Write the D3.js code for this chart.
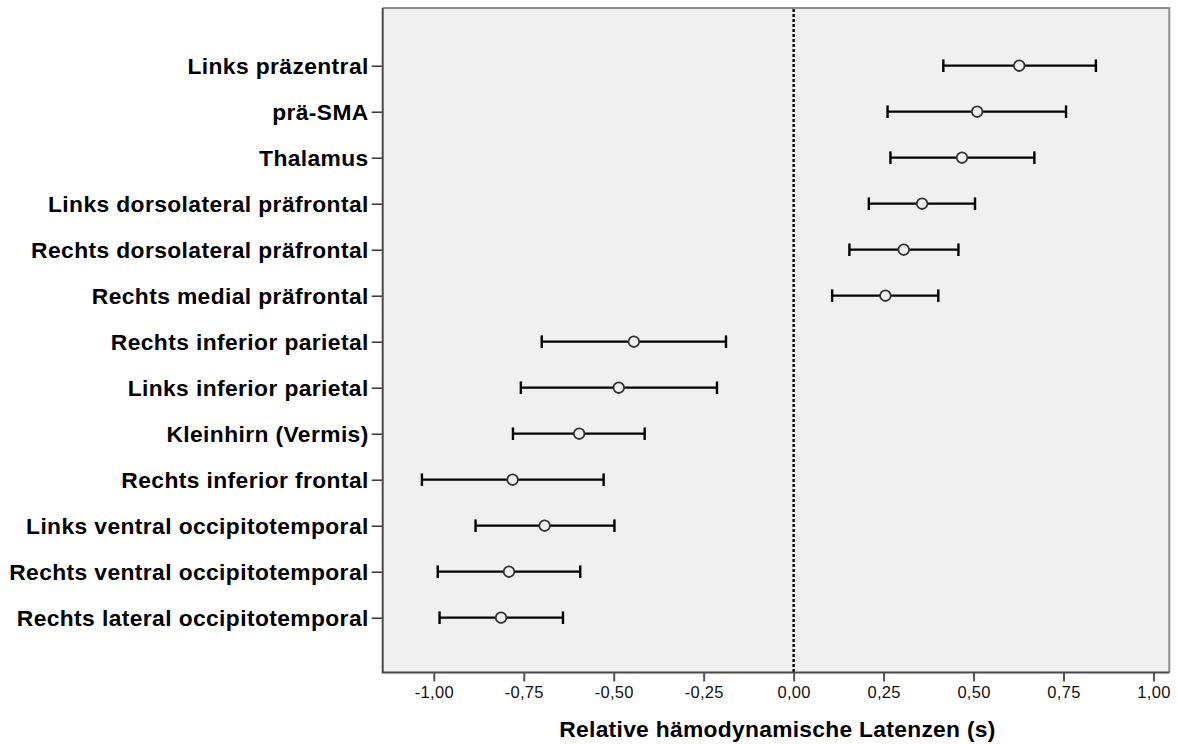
<!DOCTYPE html>
<html>
<head>
<meta charset="utf-8">
<script src="https://cdn.jsdelivr.net/npm/d3@7"></script>
<style>
  html, body { margin: 0; padding: 0; background: #ffffff; }
  svg { display: block; }
  text { font-family: "Liberation Sans", Arial, sans-serif; }
</style>
</head>
<body>
<svg id="chart" width="1177" height="744"></svg>
<script>
const categories = [
  "Links präzentral",
  "prä-SMA",
  "Thalamus",
  "Links dorsolateral präfrontal",
  "Rechts dorsolateral präfrontal",
  "Rechts medial präfrontal",
  "Rechts inferior parietal",
  "Links inferior parietal",
  "Kleinhirn (Vermis)",
  "Rechts inferior frontal",
  "Links ventral occipitotemporal",
  "Rechts ventral occipitotemporal",
  "Rechts lateral occipitotemporal"
];
const means = [0.627, 0.510, 0.468, 0.357, 0.306, 0.255, -0.444, -0.486, -0.596, -0.781, -0.692, -0.791, -0.813];
const lower = [0.416, 0.261, 0.269, 0.209, 0.155, 0.107, -0.700, -0.758, -0.780, -1.033, -0.884, -0.989, -0.984];
const upper = [0.840, 0.757, 0.669, 0.504, 0.458, 0.402, -0.188, -0.213, -0.414, -0.528, -0.498, -0.593, -0.641];
const xTicks = [-1.00, -0.75, -0.50, -0.25, 0.00, 0.25, 0.50, 0.75, 1.00];
const xDomain = [-1.142, 1.044];
const xTitle = "Relative hämodynamische Latenzen (s)";

const rows = categories.map((c, i) => ({ cat: c, mean: means[i], lo: lower[i], hi: upper[i] }));

const svg = d3.select("#chart");
const frame = { left: 382.7, right: 1169.3, top: 8, bottom: 672.5 };

const x = d3.scaleLinear().domain(xDomain).range([frame.left, frame.right]);
const y = d3.scalePoint().domain(categories).range([frame.top, frame.bottom]).padding(1.2228).align(0.513);

// plot background
svg.append("rect")
  .attr("x", frame.left).attr("y", frame.top)
  .attr("width", frame.right - frame.left).attr("height", frame.bottom - frame.top)
  .attr("fill", "#f0f0f0");

// top and right border (gray)
svg.append("path")
  .attr("d", `M${frame.left},${frame.top}H${frame.right}V${frame.bottom}`)
  .attr("fill", "none").attr("stroke", "#8c8c8c").attr("stroke-width", 2);

// zero reference line
svg.append("line")
  .attr("x1", x(0)).attr("x2", x(0))
  .attr("y1", frame.top + 1).attr("y2", frame.bottom)
  .attr("stroke", "#000").attr("stroke-width", 2.4)
  .attr("stroke-dasharray", "3,2");

// x axis
const xAxis = d3.axisBottom(x)
  .tickValues(xTicks)
  .tickSize(9)
  .tickPadding(5)
  .tickFormat(d => d3.format(".2f")(d).replace("−", "-").replace(".", ","));
const gx = svg.append("g").attr("transform", `translate(0,${frame.bottom})`).call(xAxis);
gx.select(".domain").remove();
gx.selectAll(".tick line").attr("stroke", "#555").attr("stroke-width", 2);
gx.selectAll(".tick text").attr("font-size", 16.5).attr("fill", "#111")
  .attr("letter-spacing", "0.3px")
  .attr("font-family", "'Liberation Sans', Arial, sans-serif");

// y axis
const yAxis = d3.axisLeft(y).tickSize(11).tickPadding(3);
const gy = svg.append("g").attr("transform", `translate(${frame.left},0)`).call(yAxis);
gy.select(".domain").remove();
gy.selectAll(".tick line").attr("stroke", "#333").attr("stroke-width", 1.5);
gy.selectAll(".tick text").attr("font-size", 22.8).attr("font-weight", "bold").attr("fill", "#000")
  .attr("dy", "0.36em")
  .attr("letter-spacing", "0.4px")
  .attr("font-family", "'Liberation Sans', Arial, sans-serif");

// left and bottom axis lines
svg.append("path")
  .attr("d", `M${frame.left},${frame.top}V${frame.bottom}H${frame.right}`)
  .attr("fill", "none").attr("stroke", "#4a4a4a").attr("stroke-width", 2);

// error bars
const g = svg.append("g");
const bars = g.selectAll("g.bar").data(rows).join("g").attr("class", "bar");
bars.append("line")
  .attr("x1", d => x(d.lo)).attr("x2", d => x(d.hi))
  .attr("y1", d => y(d.cat)).attr("y2", d => y(d.cat))
  .attr("stroke", "#000").attr("stroke-width", 2.2);
bars.append("line")
  .attr("x1", d => x(d.lo)).attr("x2", d => x(d.lo))
  .attr("y1", d => y(d.cat) - 6.3).attr("y2", d => y(d.cat) + 6.3)
  .attr("stroke", "#000").attr("stroke-width", 2.4);
bars.append("line")
  .attr("x1", d => x(d.hi)).attr("x2", d => x(d.hi))
  .attr("y1", d => y(d.cat) - 6.3).attr("y2", d => y(d.cat) + 6.3)
  .attr("stroke", "#000").attr("stroke-width", 2.4);
bars.append("circle")
  .attr("cx", d => x(d.mean)).attr("cy", d => y(d.cat))
  .attr("r", 5.3)
  .attr("fill", "#f0f0f0").attr("stroke", "#333").attr("stroke-width", 1.8);

// x title
svg.append("text")
  .attr("x", (frame.left + frame.right) / 2 + 1.5)
  .attr("y", 736.5)
  .attr("text-anchor", "middle")
  .attr("font-size", 22.8).attr("font-weight", "bold").attr("fill", "#000")
  .attr("letter-spacing", "0.3px")
  .text(xTitle);
</script>
</body>
</html>
